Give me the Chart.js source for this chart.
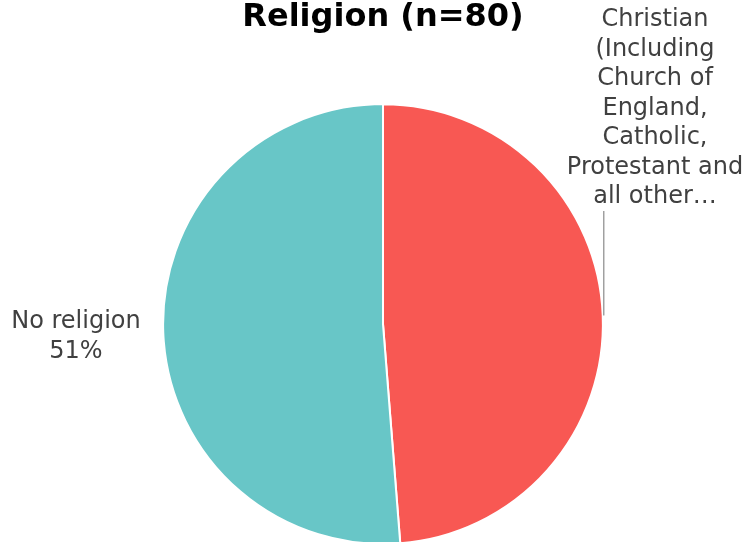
<!DOCTYPE html>
<html>
<head>
<meta charset="utf-8">
<script src="https://cdn.jsdelivr.net/npm/chart.js@4.4.1/dist/chart.umd.min.js"></script>
<style>
  html, body { margin: 0; padding: 0; background: #fff; overflow: hidden; }
  #wrap { width: 746px; height: 545px; }
</style>
</head>
<body>
<div id="wrap"><canvas id="grafico_religiao"></canvas></div>
<script>
const categorias = ['Christian (Including Church of England, Catholic, Protestant and all other Christian denominations)', 'No religion'];
const valores = [39, 41];
const cores = ['#F85853', '#68C6C7'];
const titulo = 'Religion (n=80)';

// texto das etiquetas como aparece (cortado) no grafico
const linhasEtiqueta = [
  ['Christian', '(Including', 'Church of', 'England,', 'Catholic,', 'Protestant and', 'all other…'],
  ['No religion', '{pct}']
];

const total = valores.reduce((a, b) => a + b, 0);

const etiquetasPlugin = {
  id: 'etiquetas',
  afterDraw(chart) {
    const ctx = chart.ctx;
    const meta = chart.getDatasetMeta(0);
    const cfg = [
      { x: 655, yTop: 20, line: true },
      { x: 76, yTop: 322, line: false }
    ];
    ctx.save();
    ctx.font = '24px "DejaVu Sans", Verdana, sans-serif';
    ctx.fillStyle = '#404040';
    ctx.textAlign = 'center';
    ctx.textBaseline = 'middle';
    const lh = 29.5;
    meta.data.forEach((arc, i) => {
      const pct = Math.round(valores[i] / total * 100) + '%';
      const linhas = linhasEtiqueta[i].map(l => l.replace('{pct}', pct));
      linhas.forEach((l, j) => ctx.fillText(l, cfg[i].x, cfg[i].yTop + j * lh));
      if (cfg[i].line) {
        const p = arc.getProps(['x', 'y', 'startAngle', 'endAngle', 'outerRadius'], true);
        const mid = (p.startAngle + p.endAngle) / 2;
        const ex = p.x + Math.cos(mid) * p.outerRadius + 1;
        const ey = p.y + Math.sin(mid) * p.outerRadius;
        ctx.strokeStyle = '#a0a0a0';
        ctx.lineWidth = 1.5;
        ctx.beginPath();
        ctx.moveTo(ex, ey);
        ctx.lineTo(ex, cfg[i].yTop + (linhas.length - 1) * lh + 14);
        ctx.stroke();
      }
    });
    ctx.restore();
  }
};

const ctx = document.getElementById('grafico_religiao').getContext('2d');
const meuGrafico = new Chart(ctx, {
  type: 'pie',
  data: {
    labels: categorias,
    datasets: [{
      data: valores,
      backgroundColor: cores,
      borderColor: '#ffffff',
      borderWidth: 2
    }]
  },
  options: {
    responsive: true,
    maintainAspectRatio: false,
    animation: false,
    layout: { padding: { left: 20, right: 0, top: 0, bottom: 0 } },
    plugins: {
      legend: { display: false },
      tooltip: { enabled: false },
      title: {
        display: true,
        text: titulo,
        color: '#000000',
        font: { family: '"DejaVu Sans", Verdana, sans-serif', size: 32, weight: 'bold', lineHeight: 1.1 },
        padding: { top: 0, bottom: 68 }
      }
    }
  },
  plugins: [etiquetasPlugin]
});
</script>
</body>
</html>
